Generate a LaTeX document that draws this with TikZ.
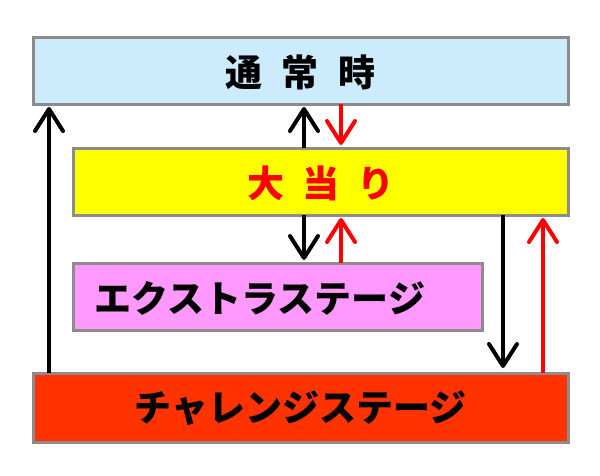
\documentclass[tikz,border=0pt]{standalone}
\usepackage{fontspec}
\newfontfamily\jp{Noto Sans CJK JP Black}
\usetikzlibrary{arrows.meta}
\definecolor{boxgray}{HTML}{8C8C8C}
\definecolor{skyfill}{HTML}{CCEBFC}
\definecolor{yelfill}{HTML}{FFFF00}
\definecolor{pinkfill}{HTML}{FF99FF}
\definecolor{redfill}{HTML}{FF3300}
\definecolor{arrred}{HTML}{FF0000}
\tikzset{
  stagebox/.style={draw=boxgray, line width=3pt, inner sep=0pt, outer sep=0pt, rectangle},
  label36/.style={font=\jp\fontsize{37}{37}\selectfont, inner sep=0pt},
  arrblack/.style={draw=black, line width=4pt, -{Straight Barb[length=22pt,width=28pt,line cap=round,line join=round]}},
  arrred/.style={draw=arrred, line width=4pt, -{Straight Barb[length=22pt,width=28pt,line cap=round,line join=round]}},
}
\begin{document}
\begin{tikzpicture}[x=1pt,y=-1pt]
\useasboundingbox[fill=white] (0,0) rectangle (600,475);
% boxes
\node[stagebox, fill=skyfill, minimum width=535pt, minimum height=67pt] (top) at (300.5,70.5) {};
\node[stagebox, fill=yelfill, minimum width=495pt, minimum height=67pt] (hit) at (320.5,181.5) {};
\node[stagebox, fill=pinkfill, minimum width=409pt, minimum height=67pt] (extra) at (277.5,296.5) {};
\node[stagebox, fill=redfill, minimum width=535pt, minimum height=69pt] (chal) at (300.5,407.5) {};
% texts
\node[label36, text=black] (ttop) at (300.5,72) {通\hspace{20pt}常\hspace{20pt}時};
\node[label36, text=arrred] (thit) at (321,183) {大\hspace{18pt}当\hspace{18pt}り};
\node[label36, text=black] (textra) at (260,298) {エクストラステージ};
\node[label36, text=black] (tchal) at (300.5,408) {チャレンジステージ};
% x positions for connectors
\coordinate (xa) at (49,0);
\coordinate (xb) at (304,0);
\coordinate (xc) at (341,0);
\coordinate (xd) at (503,0);
\coordinate (xe) at (543,0);
% connectors
\draw[arrblack] (chal.north -| xa) -- ([yshift=-3pt]top.south -| xa);
\draw[arrblack] (hit.north -| xb) -- ([yshift=-3pt]top.south -| xb);
\draw[arrred] (top.south -| xc) -- ([yshift=3pt]hit.north -| xc);
\draw[arrblack] (hit.south -| xb) -- ([yshift=3pt]extra.north -| xb);
\draw[arrred] (extra.north -| xc) -- ([yshift=-3pt]hit.south -| xc);
\draw[arrblack] (hit.south -| xd) -- ([yshift=5pt]chal.north -| xd);
\draw[arrred] (chal.north -| xe) -- ([yshift=-3pt]hit.south -| xe);
\end{tikzpicture}
\end{document}
